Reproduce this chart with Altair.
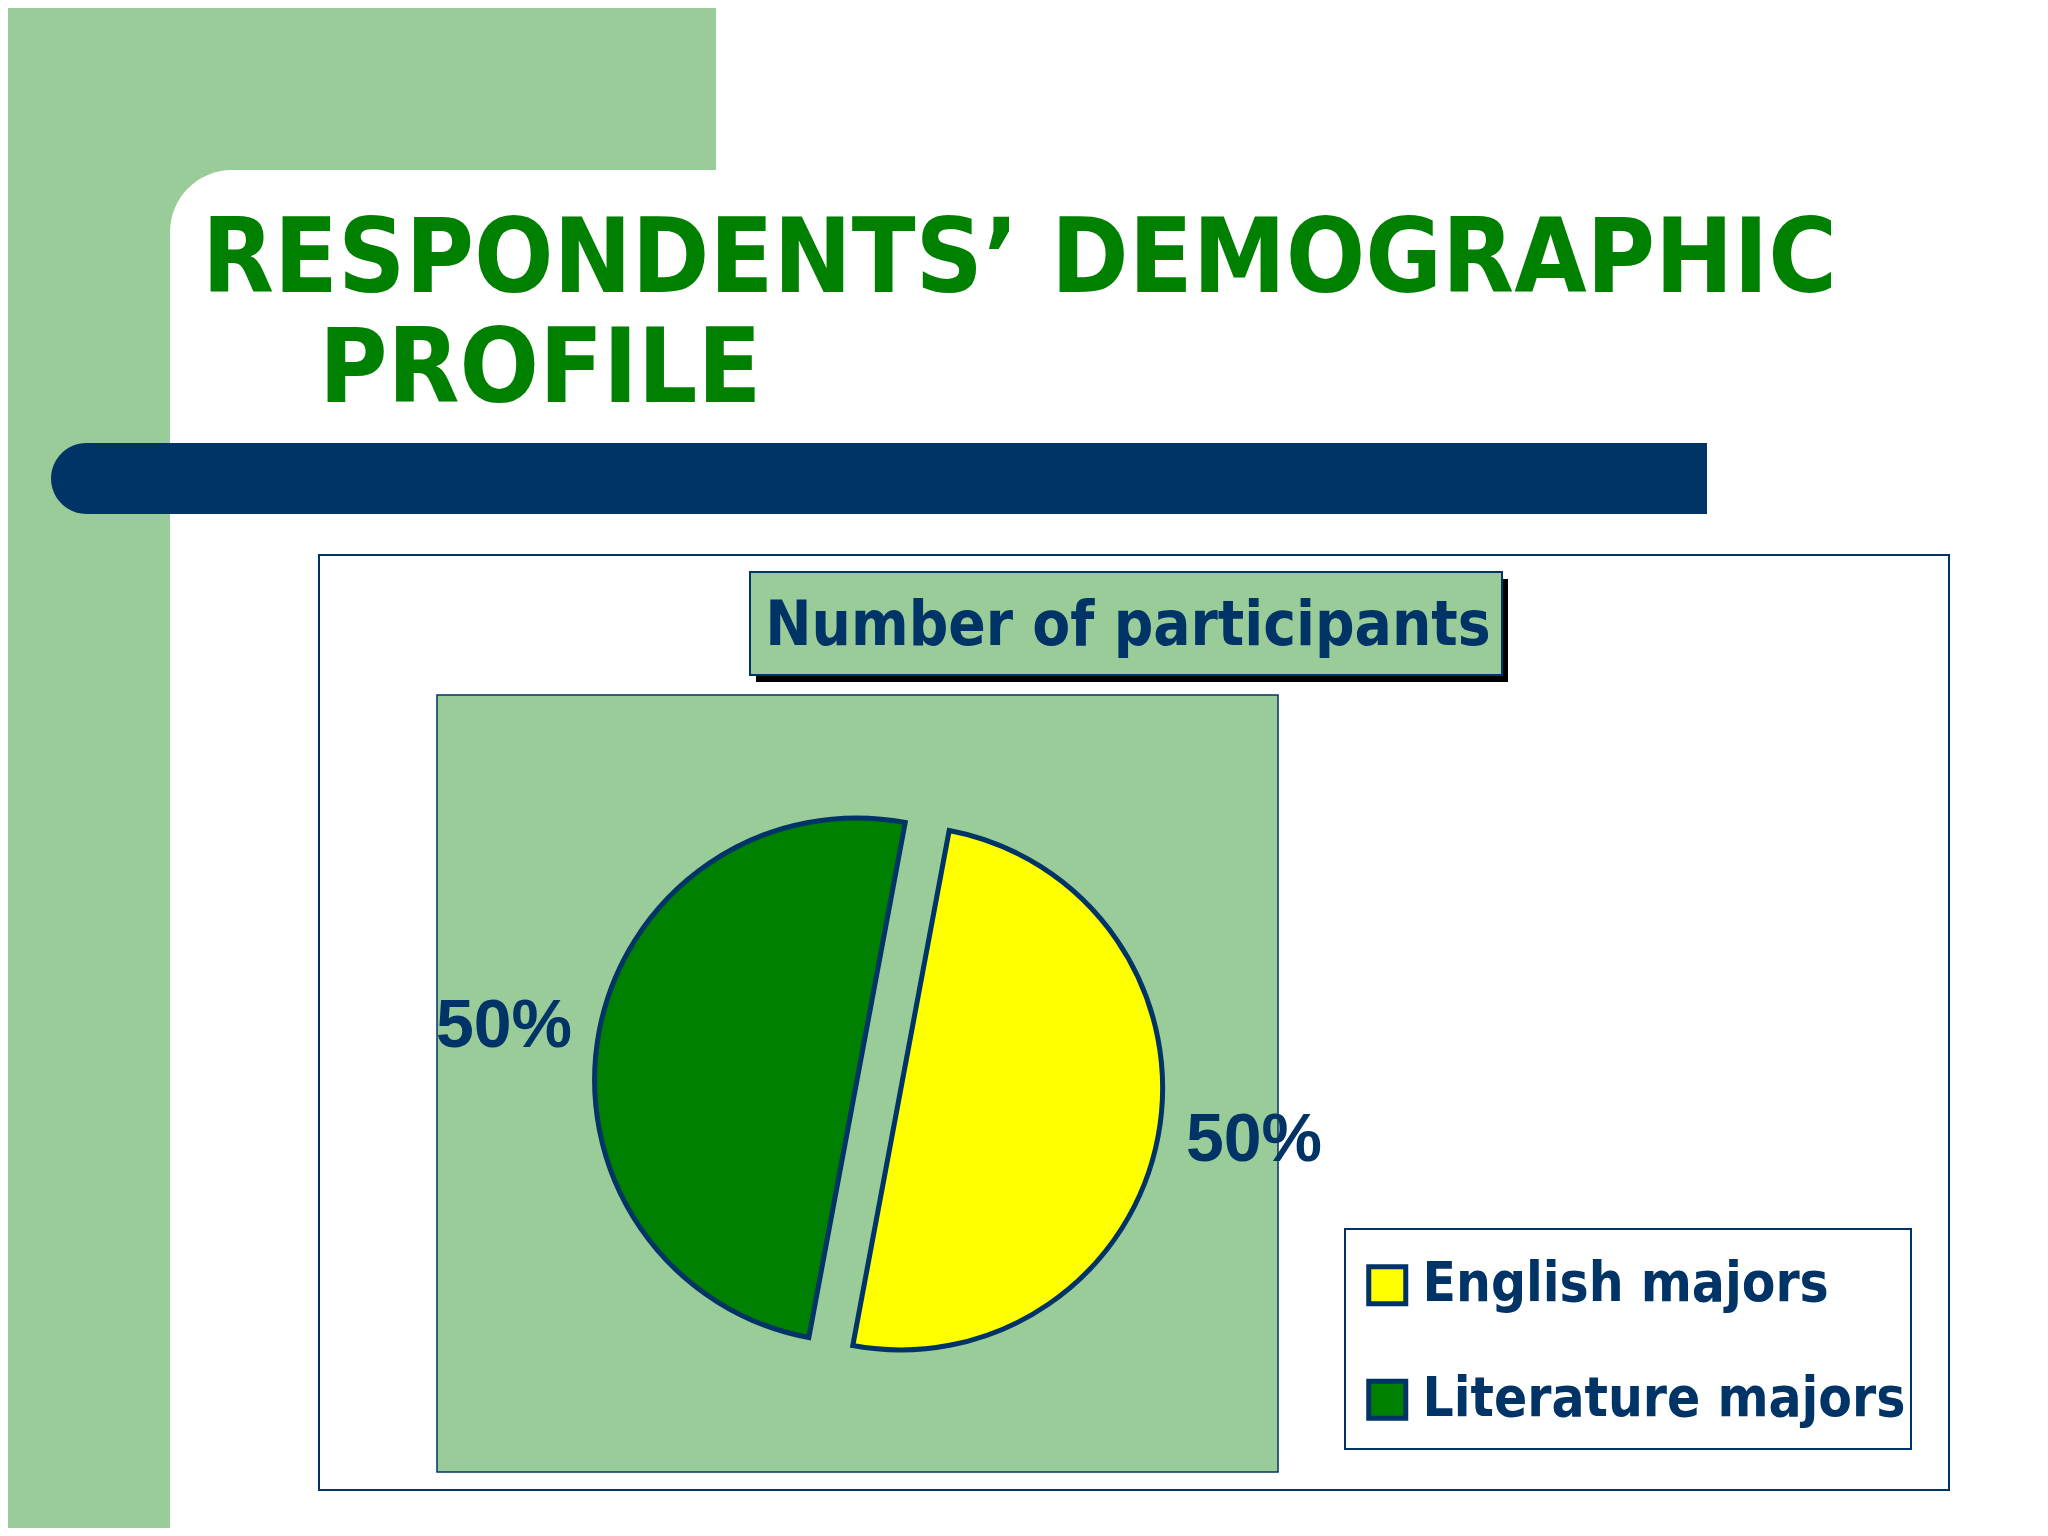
import altair as alt
import pandas as pd

# ---- data ----
categories = ["English majors", "Literature majors"]
values = [50, 50]
colors = ["#FFFF00", "#008000"]

title_lines = ["RESPONDENTS\u2019 DEMOGRAPHIC", "PROFILE"]
chart_title = "Number of participants"

NAVY = "#003366"
LIGHT_GREEN = "#99CC99"
TITLE_GREEN = "#008000"
COND = "DejaVu Sans Condensed"

df = pd.DataFrame({"cat": categories, "value": values})
one = pd.DataFrame({"k": [0]})

W, H = 2032, 1520
PI = 3.141592653589793


def rect(x, x2, y, y2, **kw):
    return alt.Chart(one).mark_rect(**kw).encode(
        x=alt.value(x), x2=alt.value(x2), y=alt.value(y), y2=alt.value(y2)
    )


def text(t, x, y, **kw):
    return alt.Chart(one).mark_text(text=t, **kw).encode(x=alt.value(x), y=alt.value(y))


# ---- slide decoration ----
deco = [
    rect(0, 708, 0, 320, fill=LIGHT_GREEN),
    rect(0, 162, 0, H, fill=LIGHT_GREEN),
    rect(162, W + 80, 162, H + 80, fill="white", cornerRadius=62),
    rect(43, 1699, 435, 506, fill=NAVY, cornerRadiusTopLeft=36, cornerRadiusBottomLeft=36),
    text(title_lines[0], 194, 284, font=COND, fontSize=104, fontWeight="bold",
         color=TITLE_GREEN, align="left", baseline="alphabetic"),
    text(title_lines[1], 311, 394, font=COND, fontSize=104, fontWeight="bold",
         color=TITLE_GREEN, align="left", baseline="alphabetic"),
    # chart frame
    rect(311, 1941, 547, 1482, fill="white", stroke=NAVY, strokeWidth=2),
    # chart title box with shadow
    rect(748, 1500, 571, 674, fill="black"),
    rect(742, 1494, 564, 667, fill=LIGHT_GREEN, stroke=NAVY, strokeWidth=2),
    text(chart_title, 1120, 637, font=COND, fontSize=61.5, fontWeight="bold",
         color=NAVY, align="center", baseline="alphabetic"),
    # plot area
    rect(429, 1270, 687, 1464, fill=LIGHT_GREEN, stroke=NAVY, strokeWidth=1.5),
    # legend box
    rect(1337, 1903, 1221, 1441, fill="white", stroke=NAVY, strokeWidth=2),
]

# ---- pie ----
START = 0.185
LABEL_START = 0.15
theta_scale = alt.Scale(domain=[0, 1], range=[START, START + 2 * PI])
label_scale = alt.Scale(domain=[0, 1], range=[LABEL_START, LABEL_START + 2 * PI])
color_scale = alt.Scale(domain=categories, range=colors)

base = (
    alt.Chart(df)
    .transform_joinaggregate(total="sum(value)")
    .transform_window(cum="sum(value)", frame=[None, 0])
    .transform_calculate(t1="datum.cum / datum.total")
    .transform_calculate(t0="(datum.cum - datum.value) / datum.total")
    .transform_calculate(mid="(datum.t0 + datum.t1) / 2")
    .transform_calculate(label="format(datum.value / datum.total * 100, '.0f') + '%'")
)

legend = alt.Legend(
    title=None, orient="none", legendX=1352, legendY=1250,
    symbolType="square", symbolSize=1369, symbolStrokeColor=NAVY, symbolStrokeWidth=5,
    symbolOpacity=1,
    labelFont=COND, labelFontSize=54.5, labelFontWeight="bold", labelColor=NAVY,
    labelOffset=8, rowPadding=56.5, padding=0, labelLimit=0,
)

centers = {"English majors": (893, 1080), "Literature majors": (849, 1072)}

pie_layers = []
for cat in categories:
    cx, cy = centers[cat]
    sub = base.transform_filter(alt.datum.cat == cat)
    arc = sub.mark_arc(radius=262, stroke=NAVY, strokeWidth=5).encode(
        theta=alt.Theta("t0:Q", scale=theta_scale),
        theta2=alt.Theta2("t1:Q"),
        color=alt.Color("cat:N", scale=color_scale, legend=legend),
        x=alt.value(cx), y=alt.value(cy),
    )
    lab = sub.mark_text(radius=357, font="Liberation Sans", fontSize=68, fontWeight="bold",
                        color=NAVY, align="center", baseline="middle").encode(
        theta=alt.Theta("mid:Q", scale=label_scale),
        text="label:N",
        x=alt.value(cx), y=alt.value(cy),
    )
    pie_layers += [arc, lab]

chart = alt.layer(*deco, *pie_layers).resolve_scale(theta="independent").properties(
    width=W, height=H, autosize=alt.AutoSizeParams(type="none"), padding=0,
    background="white",
).configure_view(stroke=None)

chart.save("out.html", embed_options={"renderer": "svg", "actions": False})
